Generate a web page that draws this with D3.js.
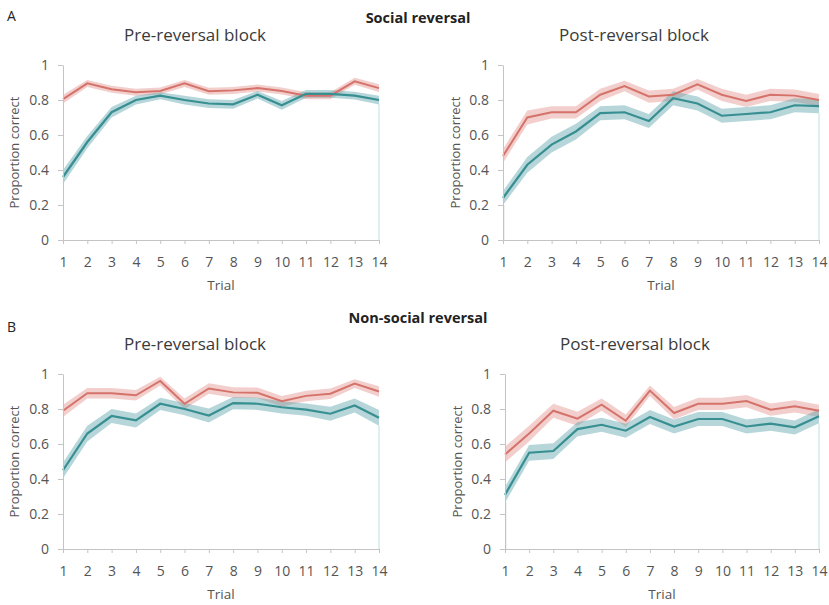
<!DOCTYPE html>
<html>
<head>
<meta charset="utf-8">
<script src="https://cdn.jsdelivr.net/npm/d3@7"></script>
<style>
  body { margin: 0; background: #fff; }
  svg text { font-family: "Open Sans", "Noto Sans", sans-serif; }
</style>
</head>
<body>
<script>
const width = 829;
const height = 605;

// trial numbers and tick labels
var trials = [1,2,3,4,5,6,7,8,9,10,11,12,13,14];
var yTicks = [0, 0.2, 0.4, 0.6, 0.8, 1];

// A: social reversal
var socialPreRed   = [0.805,0.895,0.862,0.845,0.852,0.895,0.850,0.855,0.868,0.852,0.825,0.825,0.907,0.868];
var socialPreRedErr= [0.025,0.02,0.02,0.02,0.02,0.02,0.02,0.02,0.02,0.02,0.02,0.02,0.02,0.022];
var socialPreTeal  = [0.36,0.56,0.73,0.80,0.825,0.80,0.78,0.775,0.83,0.77,0.835,0.835,0.825,0.80];
var socialPreTealErr=[0.04,0.035,0.03,0.025,0.02,0.025,0.025,0.025,0.022,0.025,0.022,0.022,0.022,0.025];

var socialPostRed   = [0.48,0.70,0.73,0.73,0.83,0.88,0.82,0.83,0.89,0.83,0.795,0.83,0.825,0.80];
var socialPostRedErr= [0.04,0.04,0.035,0.035,0.035,0.03,0.035,0.035,0.03,0.035,0.035,0.035,0.035,0.035];
var socialPostTeal  = [0.24,0.43,0.545,0.62,0.725,0.73,0.68,0.81,0.78,0.71,0.72,0.73,0.77,0.765];
var socialPostTealErr=[0.04,0.045,0.045,0.045,0.04,0.04,0.04,0.04,0.04,0.04,0.04,0.04,0.04,0.04];

// B: non-social reversal
var nonsocialPreRed   = [0.79,0.89,0.89,0.878,0.96,0.83,0.917,0.895,0.893,0.845,0.875,0.887,0.945,0.90];
var nonsocialPreRedErr= [0.035,0.03,0.03,0.03,0.025,0.03,0.03,0.03,0.03,0.03,0.03,0.03,0.025,0.03];
var nonsocialPreTeal  = [0.45,0.66,0.76,0.735,0.83,0.80,0.763,0.834,0.83,0.81,0.796,0.773,0.82,0.75];
var nonsocialPreTealErr=[0.045,0.045,0.04,0.04,0.035,0.035,0.04,0.035,0.035,0.035,0.035,0.04,0.04,0.045];

var nonsocialPostRed   = [0.54,0.66,0.79,0.745,0.825,0.733,0.905,0.777,0.83,0.83,0.845,0.796,0.815,0.79];
var nonsocialPostRedErr= [0.045,0.045,0.04,0.04,0.035,0.035,0.03,0.035,0.035,0.035,0.035,0.035,0.035,0.035];
var nonsocialPostTeal  = [0.31,0.55,0.56,0.685,0.71,0.676,0.754,0.70,0.743,0.743,0.70,0.716,0.695,0.758];
var nonsocialPostTealErr=[0.045,0.045,0.045,0.04,0.04,0.04,0.04,0.04,0.04,0.04,0.04,0.04,0.04,0.04];

var redLine = "#d5736b", redBand = "rgba(222,135,128,0.4)";
var tealLine = "#378f91", tealBand = "rgba(80,158,168,0.42)";
var axisColor = "#c4c4c4";

var svg = d3.select("body").append("svg")
    .attr("width", width)
    .attr("height", height);

// panel layout
var panels = [
  {x0: 63,  x1: 379, yTop: 65,  yBot: 240, title: "Pre-reversal block",  red: socialPreRed, redErr: socialPreRedErr, teal: socialPreTeal, tealErr: socialPreTealErr, ylab: 14, post: false},
  {x0: 503, x1: 819, yTop: 65,  yBot: 240, title: "Post-reversal block", red: socialPostRed, redErr: socialPostRedErr, teal: socialPostTeal, tealErr: socialPostTealErr, ylab: 455, post: true},
  {x0: 63,  x1: 379, yTop: 374, yBot: 549, title: "Pre-reversal block",  red: nonsocialPreRed, redErr: nonsocialPreRedErr, teal: nonsocialPreTeal, tealErr: nonsocialPreTealErr, ylab: 14, post: false},
  {x0: 505, x1: 819, yTop: 374, yBot: 549, title: "Post-reversal block", red: nonsocialPostRed, redErr: nonsocialPostRedErr, teal: nonsocialPostTeal, tealErr: nonsocialPostTealErr, ylab: 457, post: true}
];

// section headings
svg.append("text").attr("x", 7).attr("y", 21).text("A")
  .attr("font-size", 14).attr("fill", "#222");
svg.append("text").attr("x", 418).attr("y", 23).text("Social reversal")
  .attr("text-anchor", "middle").attr("font-size", 14.5).attr("font-weight", "bold").attr("fill", "#222");
svg.append("text").attr("x", 7).attr("y", 332).text("B")
  .attr("font-size", 14).attr("fill", "#222");
svg.append("text").attr("x", 418).attr("y", 323).text("Non-social reversal")
  .attr("text-anchor", "middle").attr("font-size", 14.5).attr("font-weight", "bold").attr("fill", "#222");

panels.forEach(function(p){
  var xScale = d3.scaleLinear().domain([1, 14]).range([p.x0, p.x1]);
  var yScale = d3.scaleLinear().domain([0, 1]).range([p.yBot, p.yTop]);
  var g = svg.append("g");

  // title
  g.append("text")
    .attr("x", (p.x0 + p.x1) / 2 - (p.post ? 27 : 26))
    .attr("y", p.yTop - 24)
    .attr("text-anchor", "middle")
    .attr("font-size", 17)
    .attr("fill", "#3a3a3a")
    .text(p.title);

  function band(vals, errs){
    return d3.area()
      .x(function(d, i){ return xScale(trials[i]); })
      .y0(function(d, i){ return yScale(vals[i] - errs[i]); })
      .y1(function(d, i){ return yScale(vals[i] + errs[i]); })(vals);
  }
  var line = d3.line()
    .x(function(d, i){ return xScale(trials[i]); })
    .y(function(d){ return yScale(d); });

  // faint edges of the band down to the axis
  g.append("line")
    .attr("x1", xScale(14)).attr("x2", xScale(14))
    .attr("y1", yScale(0)).attr("y2", yScale(p.teal[13] - p.tealErr[13]))
    .attr("stroke", "#bfe0e0").attr("stroke-width", 1);
  if (p.post) {
    g.append("line")
      .attr("x1", xScale(1) + 1).attr("x2", xScale(1) + 1)
      .attr("y1", yScale(0)).attr("y2", yScale(p.teal[0] - p.tealErr[0]))
      .attr("stroke", "#e2e6e6").attr("stroke-width", 1);
  }

  g.append("path").attr("d", band(p.red, p.redErr)).attr("fill", redBand);
  g.append("path").attr("d", band(p.teal, p.tealErr)).attr("fill", tealBand);
  g.append("path").attr("d", line(p.red)).attr("fill", "none")
    .attr("stroke", redLine).attr("stroke-width", 2);
  g.append("path").attr("d", line(p.teal)).attr("fill", "none")
    .attr("stroke", tealLine).attr("stroke-width", 2.2);

  // axes
  var xAxis = g.append("g")
    .attr("transform", "translate(0," + p.yBot + ")")
    .call(d3.axisBottom(xScale).tickValues(trials).tickFormat(d3.format("d")).tickSize(4).tickSizeOuter(0));
  var yAxis = g.append("g")
    .attr("transform", "translate(" + p.x0 + ",0)")
    .call(d3.axisLeft(yScale).tickValues(yTicks)
      .tickFormat(function(d){ return (d === 0 || d === 1) ? d : d.toFixed(1); })
      .tickSize(5).tickSizeOuter(0));

  [xAxis, yAxis].forEach(function(a){
    a.select(".domain").attr("stroke", axisColor);
    a.selectAll(".tick line").attr("stroke", axisColor);
    a.selectAll(".tick text")
      .attr("font-size", 14)
      .attr("font-family", "'Open Sans', sans-serif")
      .attr("fill", "#555");
  });
  xAxis.selectAll(".tick text").attr("dy", null).attr("y", 27);
  yAxis.selectAll(".tick text").attr("x", -14);

  // axis titles
  g.append("text")
    .attr("x", (p.x0 + p.x1) / 2)
    .attr("y", p.yBot + 50)
    .attr("text-anchor", "middle")
    .attr("font-size", 13.5)
    .attr("fill", "#555")
    .text("Trial");
  g.append("text")
    .attr("transform", "translate(" + (p.ylab + 5) + "," + ((p.yTop + p.yBot) / 2) + ") rotate(-90)")
    .attr("text-anchor", "middle")
    .attr("font-size", 13)
    .attr("fill", "#555")
    .text("Proportion correct");
});
</script>
</body>
</html>
